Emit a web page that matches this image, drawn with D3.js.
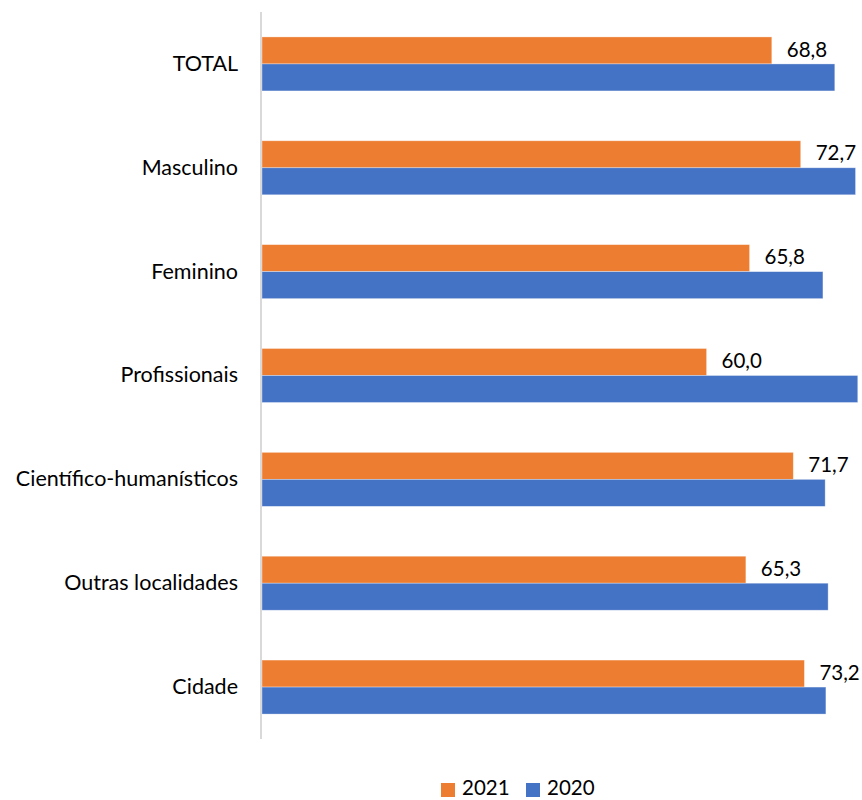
<!DOCTYPE html>
<html>
<head>
<meta charset="utf-8">
<script src="https://cdn.jsdelivr.net/npm/d3@7"></script>
<style>
  html, body { margin: 0; padding: 0; background: #fff; }
  svg text { font-family: Lato, "Open Sans", sans-serif; fill: #000; }
</style>
</head>
<body>
<svg id="chart" width="862" height="800"></svg>
<script>
// Categories, top to bottom
const categories = ["TOTAL", "Masculino", "Feminino", "Profissionais",
  "Científico-humanísticos", "Outras localidades", "Cidade"];
// Series values (%)
const values2021 = [68.8, 72.7, 65.8, 60.0, 71.7, 65.3, 73.2];
const values2020 = [77.3, 80.1, 75.7, 80.4, 76.0, 76.4, 76.1];
const seriesNames = ["2021", "2020"];
const seriesColors = ["#ED7D31", "#4472C4"];

const svg = d3.select("#chart");
const x0 = 262;
const x = d3.scaleLinear().domain([0, 80]).range([x0, x0 + 7.41 * 80]);
const y = d3.scaleBand().domain(categories).range([12, 739]).paddingInner(0.48).paddingOuter(0.24);
const sub = d3.scaleBand().domain(seriesNames).range([0, y.bandwidth()]);

const rows = categories.map((c, i) => ({ cat: c, v: [values2021[i], values2020[i]] }));

const g = svg.append("g");
rows.forEach(r => {
  seriesNames.forEach((s, j) => {
    g.append("rect")
      .attr("x", x(0))
      .attr("y", y(r.cat) + sub(s))
      .attr("width", x(r.v[j]) - x(0))
      .attr("height", sub.bandwidth())
      .attr("fill", seriesColors[j])
      .attr("stroke", "#fff")
      .attr("stroke-opacity", 0.45)
      .attr("stroke-width", 0.75);
  });
  // value label on the 2021 bar
  g.append("text")
    .attr("x", x(r.v[0]) + 15)
    .attr("y", y(r.cat) + sub("2021") + sub.bandwidth() / 2 + 1)
    .attr("dominant-baseline", "middle")
    .attr("font-size", 20.5)
    .text(d3.format(".1f")(r.v[0]).replace(".", ","));
});

// Category axis
const yAxis = d3.axisLeft(y).tickSize(0).tickPadding(23);
const ax = svg.append("g").attr("transform", `translate(261,0)`).call(yAxis);
ax.select(".domain").remove();
ax.selectAll("text").attr("font-size", 21.5).style("font-family", "Lato, 'Open Sans', sans-serif").attr("fill", "#000");
svg.append("line")
  .attr("x1", 261).attr("x2", 261).attr("y1", 12).attr("y2", 739)
  .attr("stroke", "#D9D9D9").attr("stroke-width", 2);

// Legend
const legend = svg.append("g");
const legendX = [441, 526];
seriesNames.forEach((s, j) => {
  legend.append("rect").attr("x", legendX[j]).attr("y", 783).attr("width", 14).attr("height", 14)
    .attr("fill", seriesColors[j]);
  legend.append("text").attr("x", legendX[j] + 21).attr("y", 790).attr("dominant-baseline", "middle")
    .attr("font-size", 20.5).text(s);
});
</script>
</body>
</html>
